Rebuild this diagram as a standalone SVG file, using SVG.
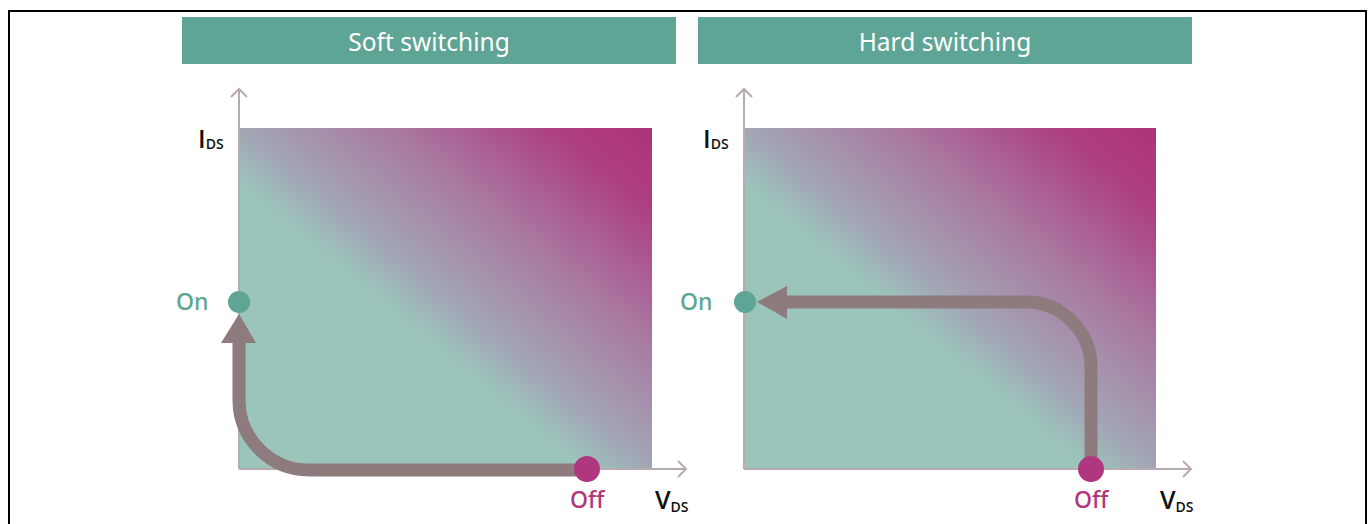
<svg xmlns="http://www.w3.org/2000/svg" width="1372" height="524" viewBox="0 0 1372 524">
<style>
.hdr{fill:#5ea595}
.hdrt{font-family:"Noto Sans","Open Sans",sans-serif;font-size:24.5px;fill:#ffffff;text-anchor:middle}
.axis{stroke:#b9a9b0;stroke-width:2;fill:none}
.path{stroke:#8e7b7e;stroke-width:13;fill:none}
.head{fill:#8e7b7e}
.on{fill:#5ea595}
.off{fill:#b0367d}
.lbl{font-family:"Noto Sans","Open Sans",sans-serif;font-size:23px;font-weight:500}
.ax{font-family:"Open Sans","Noto Sans",sans-serif;font-size:25px;font-weight:600;fill:#111111}
.sub{font-size:14px}
</style>
<defs>
<linearGradient id="g" x1="0" y1="1" x2="1" y2="0">
<stop offset="0" stop-color="#9bc4bb"/>
<stop offset="0.42" stop-color="#9bc4bb"/>
<stop offset="0.5" stop-color="#a2a6b5"/>
<stop offset="0.68" stop-color="#a97aa2"/>
<stop offset="0.88" stop-color="#ad3f80"/>
<stop offset="1" stop-color="#ad3478"/>
</linearGradient>
</defs>
<rect x="9" y="11" width="1357" height="530" fill="none" stroke="#000" stroke-width="2"/>
<g id="soft">
<rect class="hdr" x="182" y="17" width="494" height="47"/>
<text class="hdrt" x="429" y="51">Soft switching</text>
<rect x="239" y="128" width="413" height="341" fill="url(#g)"/>
<path class="axis" d="M239 469 V89 M231 97 L239 89 L247 97 M239 469 H686 M678 461 L686 469 L678 477"/>
<text class="ax" x="198" y="148">I<tspan class="sub" dy="1">DS</tspan></text>
<text class="ax" x="655" y="509">V<tspan class="sub" dy="3">DS</tspan></text>
</g>
<g id="hard">
<rect class="hdr" x="698" y="17" width="494" height="47"/>
<text class="hdrt" x="945" y="51">Hard switching</text>
<rect x="744" y="128" width="412" height="341" fill="url(#g)"/>
<path class="axis" d="M744 469 V89 M736 97 L744 89 L752 97 M744 469 H1191 M1183 461 L1191 469 L1183 477"/>
<text class="ax" x="703" y="148">I<tspan class="sub" dy="1">DS</tspan></text>
<text class="ax" x="1160" y="509">V<tspan class="sub" dy="3">DS</tspan></text>
</g>
<g id="connectors">
<path class="path" d="M587 470 H309 A70 70 0 0 1 239 400 V342"/>
<polygon class="head" points="221,343 256,343 239,314"/>
<path class="path" d="M786 302 H1026 A65 65 0 0 1 1091 367 V469"/>
<polygon class="head" points="787,286 787,319 757,302"/>
</g>
<g id="soft-on"><circle class="on" cx="239" cy="302" r="11"/><text class="lbl" x="176" y="310" fill="#5ea595">On</text></g>
<g id="soft-off"><circle class="off" cx="587" cy="469" r="13"/><text class="lbl" x="570" y="508" fill="#b0367d">Off</text></g>
<g id="hard-on"><circle class="on" cx="745" cy="302" r="11"/><text class="lbl" x="680" y="310" fill="#5ea595">On</text></g>
<g id="hard-off"><circle class="off" cx="1091" cy="469" r="13"/><text class="lbl" x="1074" y="508" fill="#b0367d">Off</text></g>
</svg>
